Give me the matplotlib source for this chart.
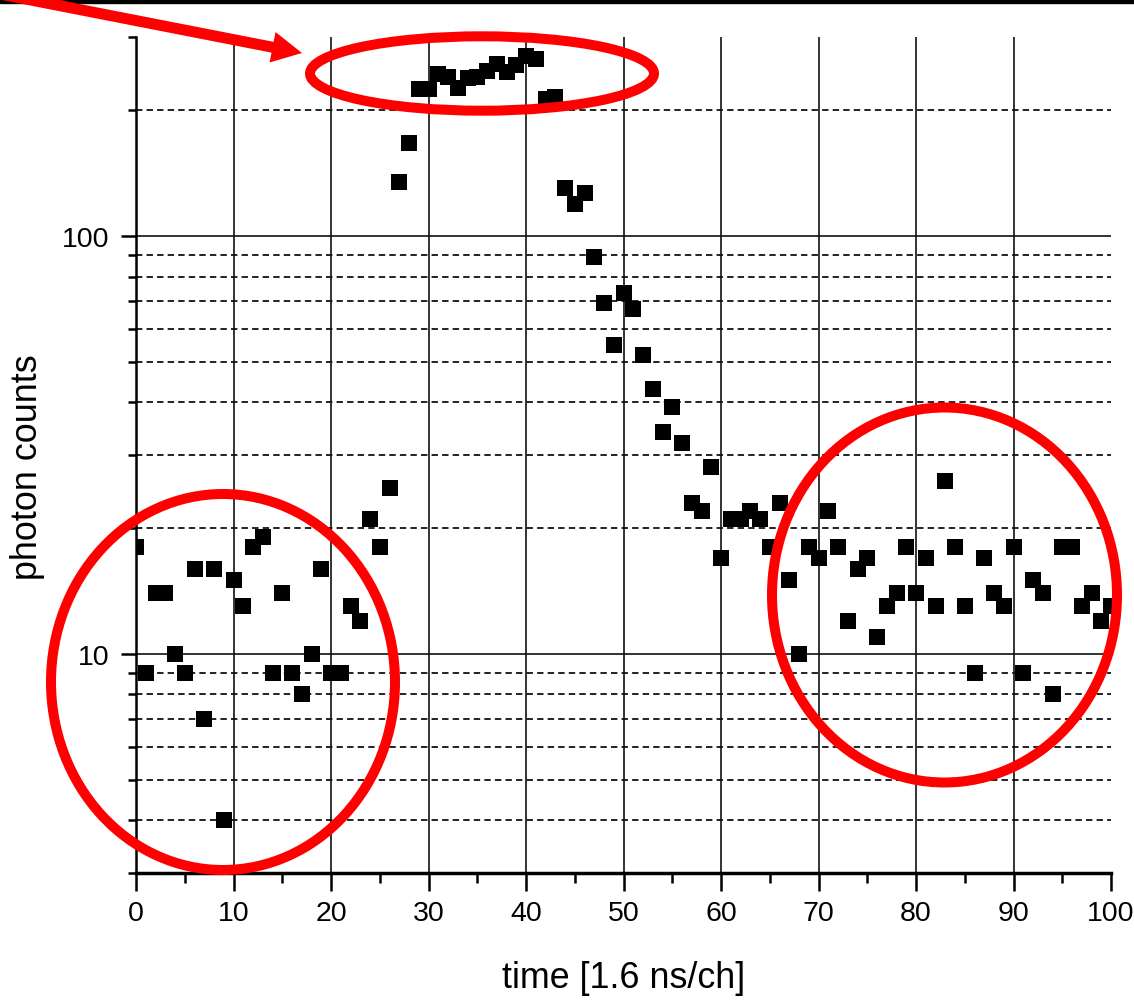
import matplotlib
matplotlib.use('Agg')
import matplotlib.pyplot as plt
from matplotlib.patches import Ellipse, FancyArrow, Rectangle
from matplotlib.transforms import Affine2D
from matplotlib import font_manager

plt.rcParams['lines.scale_dashes'] = False

# ---------------- data ----------------
channels = list(range(101))
counts = [18, 9, 14, 14, 10, 9, 16, 7, 16, 4,
          15, 13, 18, 19, 9, 14, 9, 8, 10, 16,
          9, 9, 13, 12, 21, 18, 25, 135, 167, 225,
          225, 244, 240, 226, 239, 240, 248, 258, 247, 256,
          269, 265, 213, 215, 130, 119, 127, 89, 69, 55,
          73, 67, 52, 43, 34, 39, 32, 23, 22, 28,
          17, 21, 21, 22, 21, 18, 23, 15, 10, 18,
          17, 22, 18, 12, 16, 17, 11, 13, 14, 18,
          14, 17, 13, 26, 18, 13, 9, 17, 14, 13,
          18, 9, 15, 14, 8, 18, 18, 13, 14, 12,
          13]
x_major = list(range(0, 101, 10))
x_minor = list(range(5, 100, 10))
y_major = [10, 100]
y_major_labels = ['10', '100']
y_minor = [3, 4, 5, 6, 7, 8, 9, 20, 30, 40, 50, 60, 70, 80, 90, 200, 300]
x_label = 'time [1.6 ns/ch]'
y_label = 'photon counts'


def has_font(name):
    try:
        font_manager.findfont(font_manager.FontProperties(family=name),
                              fallback_to_default=False)
        return True
    except Exception:
        return False


narrow = has_font('Liberation Sans Narrow')
tick_family = 'Liberation Sans Narrow' if narrow else 'Liberation Sans'
tick_size = 23 if narrow else 20.5
label_family = 'Liberation Sans'

W, H = 1134, 1004
fig = plt.figure(figsize=(W / 100, H / 100), dpi=100)
top_px, bot_px, left_px, right_px = 37.6, 873.5, 136, 1111
ax = fig.add_axes([left_px / W, (H - bot_px) / H,
                   (right_px - left_px) / W, (bot_px - top_px) / H])

ax.set_yscale('log')
ax.set_xlim(0, 100)
ax.set_ylim(3, 300)

grid_c = '#111111'
for v in x_major[1:-1]:
    ax.axvline(v, color=grid_c, lw=1.2, zorder=1)
for v in y_major:
    ax.axhline(v, color=grid_c, lw=1.2, zorder=1)
for v in y_minor:
    if 3 < v < 300:
        ax.axhline(v, color=grid_c, lw=1.3, ls=(0, (4.6, 3.0)), zorder=1)

ax.plot(channels, counts, 's', color='black', ms=11, mew=0, zorder=3)

ax.set_xticks(x_major)
ax.set_xticks(x_minor, minor=True)
ax.set_xticklabels([str(v) for v in x_major])
ax.set_yticks(y_major)
ax.set_yticklabels(y_major_labels)
ax.set_yticks(y_minor, minor=True)
ax.yaxis.set_minor_formatter(matplotlib.ticker.NullFormatter())

ax.tick_params(axis='x', which='major', direction='out', length=13, width=1.8,
               labelsize=tick_size, pad=7, colors='black')
ax.tick_params(axis='x', which='minor', direction='out', length=7.2, width=1.8)
ax.tick_params(axis='y', which='major', direction='out', length=11, width=1.8,
               labelsize=tick_size, pad=8)
ax.tick_params(axis='y', which='minor', direction='out', length=5.8, width=1.8)
for lab in ax.get_xticklabels() + ax.get_yticklabels():
    lab.set_family(tick_family)

for s in ['top', 'right']:
    ax.spines[s].set_visible(False)
ax.spines['left'].set_linewidth(1.8)
ax.spines['bottom'].set_linewidth(2.5)

ax.set_xlabel(x_label, fontsize=25.8, family=label_family)
ax.xaxis.set_label_coords(0.5, (bot_px - 961) / (bot_px - top_px))
ax.set_ylabel(y_label, fontsize=25.8, family=label_family)
ax.yaxis.set_label_coords((45 - left_px) / (right_px - left_px),
                          (bot_px - 467.5) / (bot_px - top_px))

# ---------------- annotations in image-pixel coordinates ----------------
pix = Affine2D().scale(1, -1).translate(0, H)
red = '#ff0000'

fig.add_artist(Rectangle((0, 0), W, 3.5, transform=pix, color='black', zorder=5))
for (cx, cy, w, h) in [(482, 74.5, 344, 74.4), (223, 683, 344, 376), (944.5, 596, 345, 375)]:
    fig.add_artist(Ellipse((cx, cy), w, h, transform=pix, fill=False,
                           edgecolor=red, lw=7.2, zorder=6))
fig.add_artist(FancyArrow(0, -5, 302, 59, width=11, head_width=31, head_length=30,
                          length_includes_head=True, color=red, lw=0,
                          transform=pix, zorder=7))

fig.savefig('out.png', dpi=100)
